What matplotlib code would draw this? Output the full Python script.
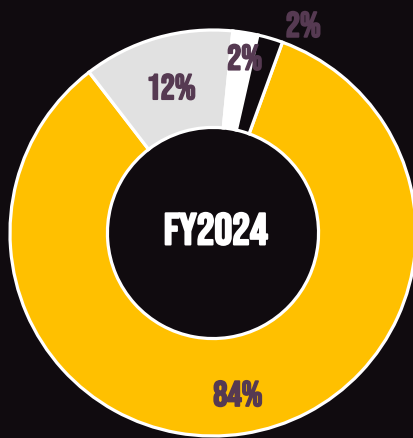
import numpy as np
import matplotlib
matplotlib.use("Agg")
import matplotlib.pyplot as plt
import matplotlib.patheffects as pe

# data
labels = ["84%", "12%", "2%", "2%"]
values = [84, 12, 2, 2]
colors = ["#FFC000", "#E1E1E1", "#FFFFFF", "#0F0A0E"]
center_text = "FY2024"

bg = "#100B0F"
lab_col = "#563A52"

W, H, dpi = 414, 439, 100
fig = plt.figure(figsize=(W / dpi, H / dpi), dpi=dpi, facecolor=bg)
ax = fig.add_axes([0, 0, 1, 1])
ax.set_facecolor(bg)

wedges, _ = ax.pie(values, colors=colors, startangle=70, counterclock=False,
                   radius=1.0,
                   wedgeprops=dict(width=0.48, edgecolor="white", linewidth=2.3))

# label distances / angle nudges per slice
dist = [0.80, 0.75, 0.88, 1.12]
nudge = [0, 0, -1, -7]
fnt = ["Bebas Neue", "DejaVu Sans"]
for w, lab, d, nd in zip(wedges, labels, dist, nudge):
    ang = np.deg2rad((w.theta1 + w.theta2) / 2 + nd)
    ax.text(d * np.cos(ang), d * np.sin(ang), lab, ha="center", va="center",
            color=lab_col, fontsize=25.5, family=fnt,
            path_effects=[pe.withStroke(linewidth=1.3, foreground=lab_col)])

ax.text(0.015, 0.02, center_text, ha="center", va="center", color="white",
        fontsize=32, family=fnt,
        path_effects=[pe.withStroke(linewidth=1.5, foreground="white")])

# pixel layout: centre at (213, 234) from top-left, radius 203 px
cx, cy, r = 213, 234, 203
ax.set_aspect("auto")
ax.set_xlim(-cx / r, (W - cx) / r)
ax.set_ylim(-(H - cy) / r, cy / r)
ax.axis("off")

fig.savefig("out.png", dpi=dpi, facecolor=bg)
